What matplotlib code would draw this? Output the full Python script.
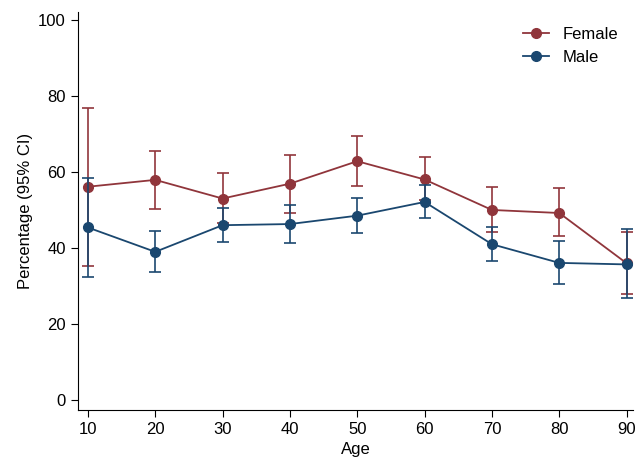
import numpy as np
import matplotlib.pyplot as plt

plt.rcParams['font.family'] = ['Liberation Sans', 'DejaVu Sans']

age = [10, 20, 30, 40, 50, 60, 70, 80, 90]
female = [56.1, 57.9, 53.0, 56.9, 62.8, 58.0, 50.0, 49.2, 36.0]
female_hi = [76.7, 65.5, 59.6, 64.4, 69.5, 63.8, 56.0, 55.7, 44.1]
female_lo = [35.4, 50.2, 46.5, 49.3, 56.2, 52.5, 44.1, 43.1, 28.0]
male = [45.4, 39.0, 46.0, 46.3, 48.5, 52.1, 41.0, 36.1, 35.7]
male_hi = [58.5, 44.5, 50.5, 51.2, 53.2, 56.5, 45.4, 41.8, 44.9]
male_lo = [32.5, 33.7, 41.6, 41.3, 44.0, 47.8, 36.7, 30.5, 26.8]

red = '#90353b'
blue = '#1a476f'

fig = plt.figure(figsize=(6.43, 4.59), dpi=100)
ax = fig.add_axes([0.121, 0.107, 0.864, 0.867])

for y, hi, lo, c, lab in [(female, female_hi, female_lo, red, 'Female'),
                          (male, male_hi, male_lo, blue, 'Male')]:
    y = np.array(y)
    err = [y - np.array(lo), np.array(hi) - y]
    ax.errorbar(age, y, yerr=err, fmt='none', ecolor=c, elinewidth=1.4,
                capsize=4, capthick=1.4, alpha=0.85)
    ax.plot(age, y, color=c, marker='o', markersize=7, lw=1.3, label=lab)

ax.set_xlim(8.5, 91)
ax.set_ylim(-2.5, 102)
ax.set_xticks(age)
ax.set_yticks([0, 20, 40, 60, 80, 100])
ax.spines['top'].set_visible(False)
ax.spines['right'].set_visible(False)
ax.tick_params(labelsize=12, direction='out', length=5)
ax.set_xlabel('Age', fontsize=12)
ax.set_ylabel('Percentage (95% CI)', fontsize=12)
ax.legend(loc='upper right', frameon=False, fontsize=12, handlelength=1.6)

fig.savefig('out.png', dpi=100)
